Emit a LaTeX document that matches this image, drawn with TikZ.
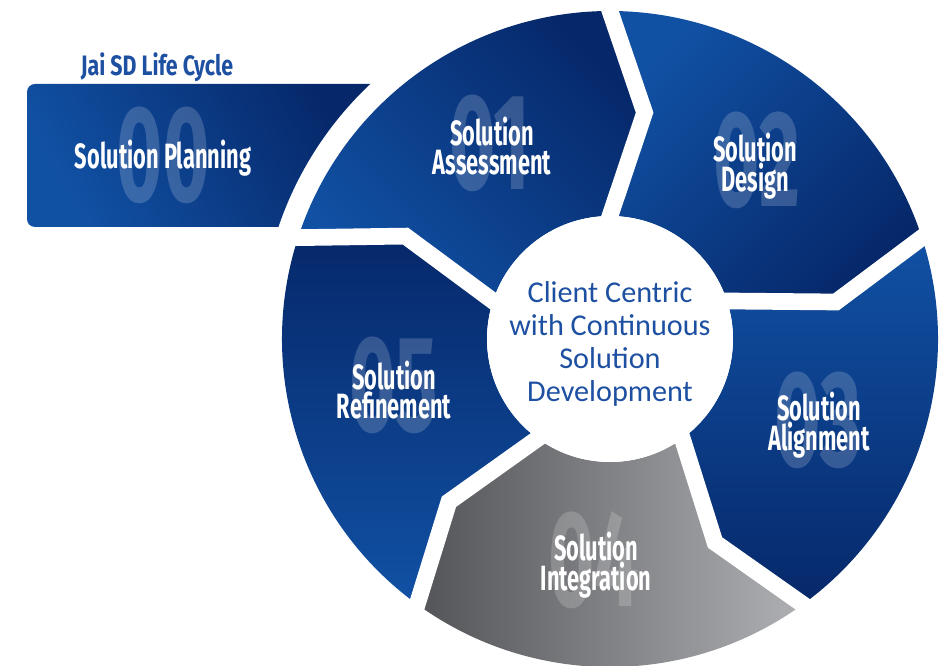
\documentclass[tikz,border=0pt]{standalone}
\usepackage{fontspec}
\usetikzlibrary{calc}
\newfontfamily\stagefont{Fira Sans}[FakeStretch=0.62]
\newfontfamily\titlefont{Fira Sans}[FakeStretch=0.76]
\newfontfamily\numfont{Fira Sans}[FakeStretch=0.58]
\newfontfamily\hubfont{Carlito}
\definecolor{jaiLight}{HTML}{1151A4}
\definecolor{jaiDark}{HTML}{06286A}
\definecolor{greyDark}{HTML}{535457}
\definecolor{greyLight}{HTML}{AEB0B3}
\definecolor{jaiText}{HTML}{1E50A2}

\tikzset{
  stagepath/.style={insert path={({#1}:328) arc[start angle={#1}, end angle={#1-72}, radius=328]
    -- ({#1-80.7}:229) -- ({#1-72}:123) arc[start angle={#1-72}, end angle={#1}, radius=123]
    -- ({#1-8.7}:229) -- cycle}},
  seglabel/.style={text=white, align=center, font=\stagefont\bfseries\fontsize{20}{17}\selectfont},
  bignum/.style={text=white, text opacity=0.18, font=\numfont\bfseries\fontsize{78}{78}\selectfont},
  gapline/.style={draw=white, line width=9.5pt, line join=miter},
}

\begin{document}
\begin{tikzpicture}[x=0.02cm, y=0.02cm]
    \useasboundingbox (0,0) rectangle (951,666);

    % The ring of stages
    \begin{scope}[shift={(610,327)}]
        \path[stagepath=162, top color=jaiDark, bottom color=jaiLight, shading angle=-45];  % 01
        \path[stagepath=90, top color=jaiDark, bottom color=jaiLight, shading angle=-135];  % 02
        \path[stagepath=18, top color=jaiLight, bottom color=jaiDark];                      % 03
        \path[stagepath=-54, left color=greyDark, right color=greyLight];                   % 04
        \path[stagepath=-126, top color=jaiDark, bottom color=jaiLight];                    % 05

        % White gaps between stages
        \foreach \b in {90,18,-54,-126,-198} {
            \coordinate (tip) at ({\b-8.7}:229);
            \coordinate (outer) at ({\b}:328);
            \coordinate (inner) at ({\b}:123);
            \draw[gapline] ($(tip)!1.15!(outer)$) -- (tip) -- ($(tip)!1.2!(inner)$);
        }
        \fill[white] (0,0) circle[radius=123];

        % Stage 00 box
        \path[top color=jaiDark, bottom color=jaiLight, shading angle=-60]
            ({133.2}:350) arc[start angle=133.2, end angle=161.3, radius=350]
            -- (-575,112) arc[start angle=-90, end angle=-180, radius=8]
            -- (-583,247) arc[start angle=180, end angle=90, radius=8] -- cycle;
    \end{scope}

    % Big numbers
    \node[bignum] (n00) at (163,511) {00};
    \node[bignum] (n01) at (490,523) {01};
    \node[bignum] (n02) at (757,506) {02};
    \node[bignum] (n03) at (818,246) {03};
    \node[bignum] (n04) at (594,106) {04};
    \node[bignum] (n05) at (394,281) {05};

    % Stage names
    \node[seglabel] (planning) at (163,508) {Solution Planning};
    \node[seglabel] (assess) at (492,520) {Solution\\Assessment};
    \node[seglabel] (design) at (755,500) {Solution\\Design};
    \node[seglabel] (align) at (819,241) {Solution\\Alignment};
    \node[seglabel] (integr) at (596,101) {Solution\\Integration};
    \node[seglabel] (refine) at (394,276) {Solution\\Refinement};

    % Title and hub
    \node[text=jaiText, font=\titlefont\bfseries\fontsize{16}{18}\selectfont] (title) at (157,599) {Jai SD Life Cycle};
    \node[text=jaiText, align=center, font=\hubfont\fontsize{17.2}{18.7}\selectfont] (hub) at (610,322)
        {Client Centric\\with Continuous\\Solution\\Development};
\end{tikzpicture}
\end{document}
